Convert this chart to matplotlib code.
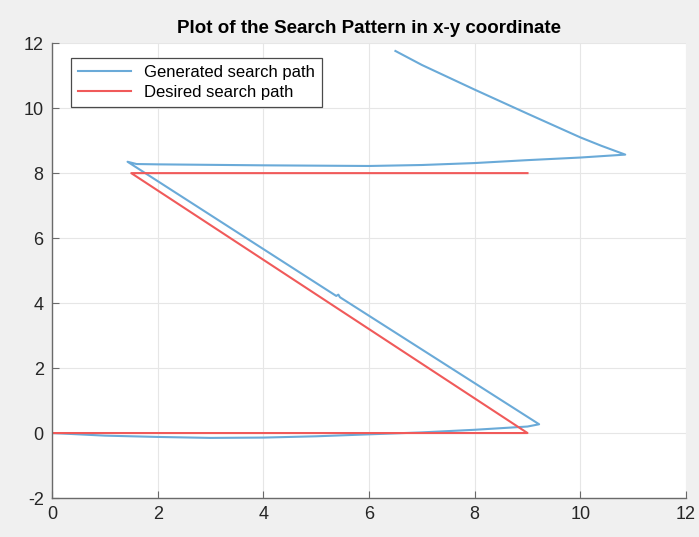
import numpy as np
import matplotlib
matplotlib.use("Agg")
import matplotlib.pyplot as plt

plt.rcParams['font.family'] = ['Liberation Sans', 'DejaVu Sans']
plt.rcParams['axes.unicode_minus'] = False

# Generated search path
gen_x = [0.0, 1.0, 2.0, 3.0, 4.0, 5.0, 6.0, 7.0, 8.0, 9.0, 9.22,
         5.45, 5.42, 5.38, 1.43,
         1.6, 2.0, 4.0, 6.0, 7.0, 8.0, 9.0, 10.0, 10.85,
         10.4, 10.0, 9.0, 8.0, 7.0, 6.5]
gen_y = [0.0, -0.08, -0.12, -0.15, -0.14, -0.1, -0.04, 0.02, 0.1, 0.2, 0.27,
         4.18, 4.26, 4.22, 8.35,
         8.28, 8.27, 8.24, 8.22, 8.25, 8.31, 8.4, 8.48, 8.57,
         8.84, 9.1, 9.83, 10.57, 11.33, 11.76]

# Desired search path
des_x = [0, 9, 1.5, 9]
des_y = [0, 0, 8, 8]

xticks = [0, 2, 4, 6, 8, 10, 12]
yticks = [-2, 0, 2, 4, 6, 8, 10, 12]

fig = plt.figure(figsize=(6.99, 5.37), dpi=100, facecolor='#f0f0f0')
ax = fig.add_axes([0.0744, 0.0726, 0.907, 0.847])
ax.set_facecolor('white')

ax.plot(gen_x, gen_y, color='#6aaad8', lw=1.5, label='Generated search path')
ax.plot(des_x, des_y, color='#f05a5a', lw=1.5, label='Desired search path')

ax.set_xlim(0, 12)
ax.set_ylim(-2, 12)
ax.set_xticks(xticks)
ax.set_yticks(yticks)
ax.grid(True, color='#e6e6e6', lw=0.8)
ax.set_axisbelow(True)

for s in ['top', 'right']:
    ax.spines[s].set_visible(False)
for s in ['left', 'bottom']:
    ax.spines[s].set_color('#6a6a6a')
    ax.spines[s].set_linewidth(1.0)
ax.tick_params(direction='in', length=5, color='#6a6a6a', labelsize=13,
               labelcolor='#262626', pad=6)

ax.set_title('Plot of the Search Pattern in x-y coordinate', fontsize=13.5,
             fontweight='bold', pad=7)

leg = ax.legend(loc='upper left', bbox_to_anchor=(0.03, 0.967), fontsize=12,
                fancybox=False, framealpha=1, edgecolor='#4a4a4a',
                borderaxespad=0, handlelength=3.2, borderpad=0.4,
                labelspacing=0.3)
leg.get_frame().set_linewidth(0.9)

fig.savefig('out.png', dpi=100, facecolor=fig.get_facecolor())
